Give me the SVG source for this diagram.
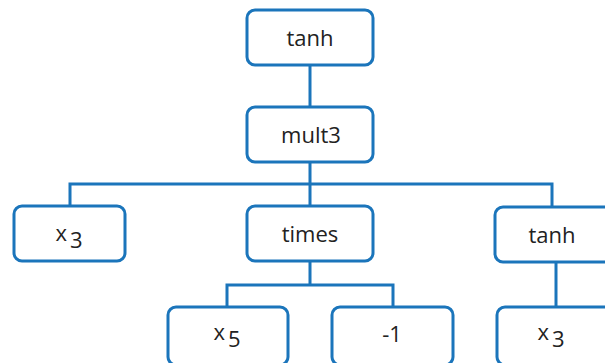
<svg xmlns="http://www.w3.org/2000/svg" width="605" height="363" viewBox="0 0 605 363">
<style>
.box{fill:#fff;stroke:#1b75bb;stroke-width:3}
.ln{fill:none;stroke:#1b75bb;stroke-width:3}
text{font-family:"Open Sans","DejaVu Sans",sans-serif;font-size:22px;fill:#222;text-anchor:middle}
</style>
<rect width="605" height="363" fill="#fff"/>
<g id="connectors">
<path class="ln" d="M310 65V107"/>
<path class="ln" d="M310 162V184M70 206V184H552V207M310 184V206"/>
<path class="ln" d="M310 262V285M227 307V285H393V307"/>
<path class="ln" d="M556 262V307"/>
</g>
<g id="n1"><rect class="box" x="247" y="10" width="126" height="55" rx="8"/><text x="310" y="46">tanh</text></g>
<g id="n2"><rect class="box" x="247" y="107" width="126" height="55" rx="8"/><text x="311" y="143">mult3</text></g>
<g id="n3"><rect class="box" x="14" y="206" width="111" height="55" rx="8"/><text x="69" y="241">x<tspan dx="3" dy="7">3</tspan></text></g>
<g id="n4"><rect class="box" x="247" y="206" width="126" height="55" rx="8"/><text x="310" y="242">times</text></g>
<g id="n5"><rect class="box" x="495" y="207" width="124" height="55" rx="8"/><text x="552" y="243">tanh</text></g>
<g id="n6"><rect class="box" x="168" y="307" width="120" height="58" rx="8"/><text x="227" y="340">x<tspan dx="3" dy="7">5</tspan></text></g>
<g id="n7"><rect class="box" x="332" y="307" width="121" height="58" rx="8"/><text x="392" y="342">-1</text></g>
<g id="n8"><rect class="box" x="497" y="307" width="124" height="58" rx="8"/><text x="551" y="340">x<tspan dx="3" dy="7">3</tspan></text></g>
</svg>
